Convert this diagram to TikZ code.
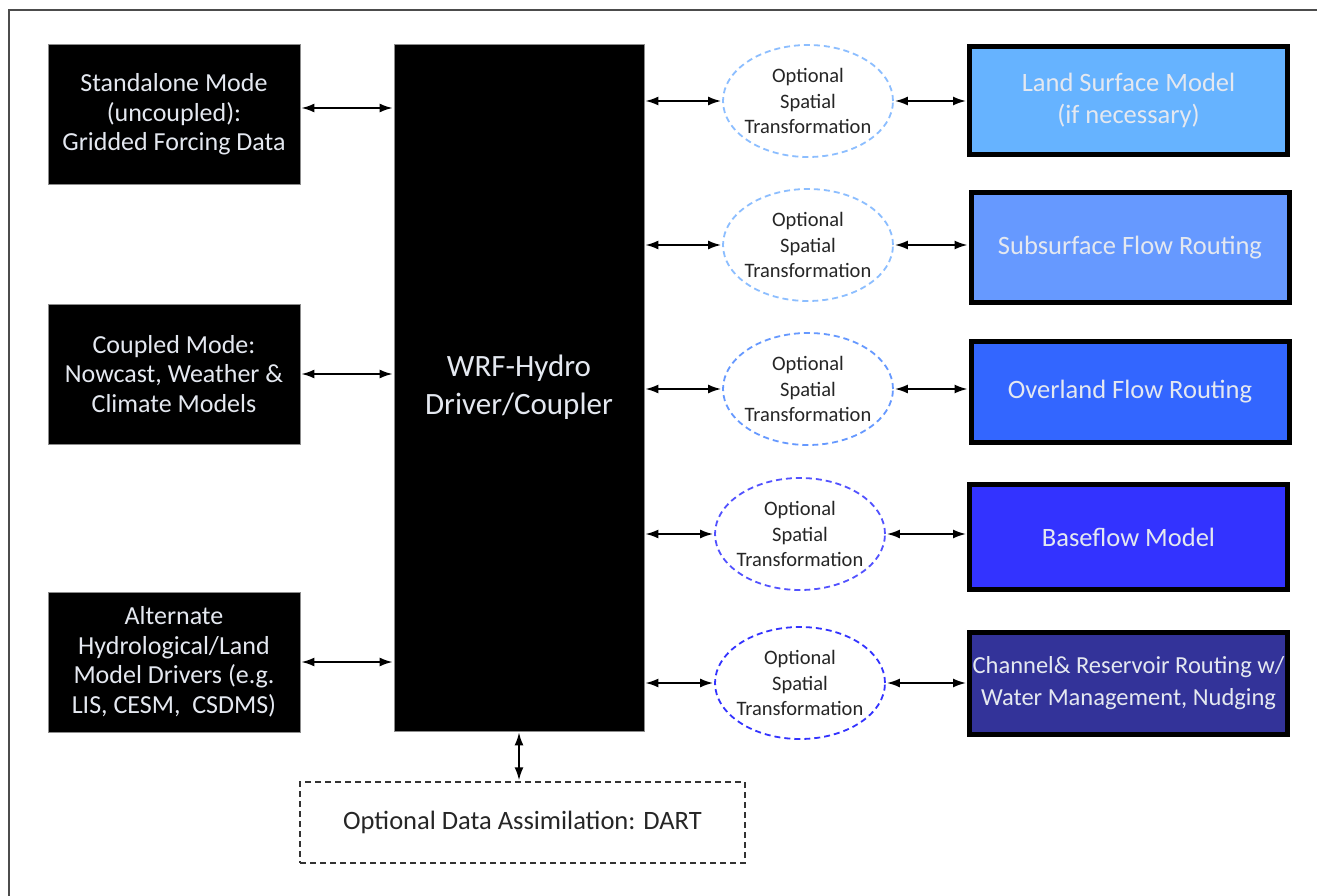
\documentclass[tikz,border=0pt]{standalone}
\usepackage{fontspec}
\setmainfont{Carlito}
\usepackage{tikz}
\usetikzlibrary{arrows.meta,shapes.geometric}
\definecolor{lsmblue}{RGB}{102,179,255}
\definecolor{subblue}{RGB}{102,153,255}
\definecolor{ovlblue}{RGB}{51,102,255}
\definecolor{bfblue}{RGB}{51,51,255}
\definecolor{chnblue}{RGB}{51,51,153}
\definecolor{ringlight}{RGB}{140,190,255}
\definecolor{boxtext}{RGB}{228,232,240}
\tikzset{
  frame/.style={draw=black!70, line width=1.5pt},
  inbox/.style={draw=black!45, fill=black, line width=0.8pt, text=boxtext,
    minimum width=252pt, minimum height=140pt, align=center, inner sep=0pt,
    font=\fontsize{26}{29.5}\selectfont},
  driver/.style={draw=black!45, fill=black, line width=0.8pt, text=boxtext,
    minimum width=250pt, minimum height=687pt, align=center, inner sep=0pt,
    font=\fontsize{31}{38}\selectfont},
  ring/.style={ellipse, draw, line width=1.8pt, dash pattern=on 6pt off 4pt,
    minimum width=170pt, minimum height=112pt, align=center,
    inner xsep=-14pt, inner ysep=0pt,
    text=black!85, font=\fontsize{20.5}{25.5}\selectfont},
  module/.style={draw=black, line width=5pt, text=boxtext,
    minimum width=318pt, align=center, inner sep=0pt,
    font=\fontsize{26.5}{32.5}\selectfont},
  dabox/.style={draw=black!80, line width=1.4pt, dash pattern=on 6pt off 4pt,
    minimum width=445pt, minimum height=81pt, align=center, inner sep=0pt,
    text=black!85, font=\fontsize{26.5}{30}\selectfont},
  link/.style={{Latex[length=13pt,width=9pt]}-{Latex[length=13pt,width=9pt]},
    draw=black, line width=1.8pt, shorten <=1pt, shorten >=1pt}
}
\begin{document}
\begin{tikzpicture}[x=1pt,y=-1pt]
  \useasboundingbox (0,0) rectangle (1317,896);
  \fill[white] (0,0) rectangle (1317,896);
  \draw[frame] (9,10) rectangle (1340,920);
  % Inputs on the left
  \node[inbox] (standalone) at (174,114.5) {Standalone Mode\\(uncoupled):\\Gridded Forcing Data};
  \node[inbox] (coupled) at (174,374) {Coupled Mode:\\Nowcast, Weather \&\\Climate Models};
  \node[inbox] (alternate) at (174,662) {Alternate\\Hydrological/Land\\Model Drivers (e.g.\\LIS, CESM,\ \ CSDMS)};
  \node[driver] (drv) at (519,387.5) {WRF-Hydro\\Driver/Coupler};
  % Spatial transformations
  \node[ring, draw=ringlight] (tr1) at (808,101) {Optional\\Spatial\\Transformation};
  \node[ring, draw=ringlight] (tr2) at (808,245) {Optional\\Spatial\\Transformation};
  \node[ring, draw=subblue] (tr3) at (808,389) {Optional\\Spatial\\Transformation};
  \node[ring, draw=bfblue!85!white] (tr4) at (800,534) {Optional\\Spatial\\Transformation};
  \node[ring, draw=bfblue] (tr5) at (800,683) {Optional\\Spatial\\Transformation};
  % Physics modules
  \node[module, fill=lsmblue, minimum height=108pt] (lsm) at (1128.5,100.5) {Land Surface Model\\(if necessary)};
  \node[module, fill=subblue, minimum height=110pt] (subsurf) at (1130,247.5) {Subsurface Flow Routing};
  \node[module, fill=ovlblue, minimum height=101pt] (overland) at (1130,392) {Overland Flow Routing};
  \node[module, fill=bfblue, minimum height=105pt] (baseflow) at (1128.5,537) {Baseflow Model};
  \node[module, fill=chnblue, minimum height=102pt, font=\fontsize{24.5}{32}\selectfont] (channel) at (1128.5,683.5) {Channel\& Reservoir Routing w/\\Water Management, Nudging};
  \node[dabox] (dart) at (522.5,822.5) {Optional Data Assimilation: DART};
  % Connectors
  \draw[link] (standalone.east |- 0,108) -- (drv.west |- 0,108);
  \draw[link] (coupled.east) -- (coupled.east -| drv.west);
  \draw[link] (alternate.east) -- (alternate.east -| drv.west);
  \foreach \t/\m in {tr1/lsm,tr2/subsurf,tr3/overland,tr4/baseflow,tr5/channel}{
    \draw[link] (drv.east |- \t.west) -- (\t.west);
    \draw[link] (\t.east) -- (\t.east -| \m.west);
  }
  \draw[link] (dart.north -| 519,0) -- (drv.south -| 519,0);
\end{tikzpicture}
\end{document}
